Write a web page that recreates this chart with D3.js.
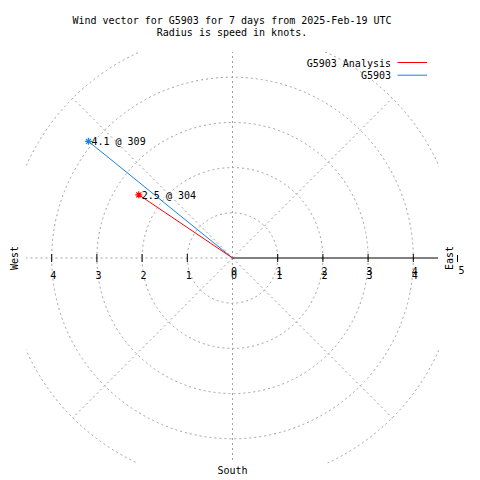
<!DOCTYPE html>
<html><head><meta charset="utf-8">
<script src="https://cdn.jsdelivr.net/npm/d3@7"></script>
<style>body{margin:0;background:#fff}text{font-family:"DejaVu Sans Mono",monospace;font-size:10px;fill:#000}</style>
</head><body>
<script>
const titleLines = ["Wind vector for G5903 for 7 days from 2025-Feb-19 UTC", "Radius is speed in knots."];
const seriesNames = ["G5903 Analysis", "G5903"];
const speeds = [2.5, 4.1];
const directions = [304, 309];
const seriesColors = ["#ff0000", "#1c80e8"];
const ringValues = [1, 2, 3, 4, 5];
const tickValues = [0, 1, 2, 3, 4];
const spokeAngles = [0, 45, 90, 135, 180, 225, 270, 315];

const W = 480, H = 480, cx = 232.5, cy = 258;
const svg = d3.select("body").append("svg").attr("width", W).attr("height", H);
const r = d3.scaleLinear().domain([0, 5]).range([0, 226]);
const px = (a, v) => cx + r(v) * Math.sin(a * Math.PI / 180);
const py = (a, v) => cy - r(v) * Math.cos(a * Math.PI / 180);

svg.append("clipPath").attr("id", "clip").append("rect")
  .attr("x", 26).attr("y", 52).attr("width", 413).attr("height", 411);
const grid = svg.append("g").attr("clip-path", "url(#clip)")
  .attr("fill", "none").attr("stroke", "#a0a0a0").attr("stroke-dasharray", "2,3");
grid.selectAll("circle").data(ringValues).join("circle")
  .attr("cx", cx).attr("cy", cy).attr("r", d => r(d));
grid.selectAll("line").data(spokeAngles.filter(a => a !== 90)).join("line")
  .attr("x1", cx).attr("y1", cy).attr("x2", d => px(d, 5)).attr("y2", d => py(d, 5));

// solid east axis
svg.append("line").attr("x1", cx).attr("y1", cy).attr("x2", 438).attr("y2", cy)
  .attr("stroke", "#000");
// ticks both sides
const ticks = svg.append("g").attr("stroke", "#000");
tickValues.slice(1).forEach(v => {
  ticks.append("line").attr("x1", cx + r(v)).attr("x2", cx + r(v)).attr("y1", cy - 4).attr("y2", cy + 4);
  ticks.append("line").attr("x1", cx - r(v)).attr("x2", cx - r(v)).attr("y1", cy - 4).attr("y2", cy + 4);
});
ticks.append("line").attr("x1", cx + r(5) - 1).attr("x2", cx + r(5) - 1).attr("y1", cy - 3).attr("y2", cy + 4);

// tick labels (right side labels are drawn twice, slightly offset, as in the reference)
const lab = svg.append("g").attr("text-anchor", "middle");
tickValues.forEach(v => {
  lab.append("text").attr("x", cx + r(v) + 1.5).attr("y", cy + 17).text(v);
  lab.append("text").attr("x", cx + r(v) + 1.5).attr("y", cy + 21).text(v);
  if (v > 0) lab.append("text").attr("x", cx - r(v) + 1.5).attr("y", cy + 21).text(v);
});
lab.append("text").attr("x", cx + r(5) + 3).attr("y", cy + 16).text(5);

// direction labels
svg.append("text").attr("transform", `translate(18,${cy}) rotate(-90)`).attr("text-anchor", "middle").text("West");
svg.append("text").attr("transform", `translate(453,${cy}) rotate(-90)`).attr("text-anchor", "middle").text("East");
svg.append("text").attr("x", cx).attr("y", 474).attr("text-anchor", "middle").text("South");

// title
svg.selectAll(".title").data(titleLines).join("text").attr("class", "title")
  .attr("x", 232).attr("y", (d, i) => 23.5 + i * 12.8).attr("text-anchor", "middle").text(d => d);

// legend
seriesNames.forEach((n, i) => {
  const y = 62.5 + i * 12.7;
  svg.append("text").attr("x", 391).attr("y", y + 4).attr("text-anchor", "end").text(n);
  svg.append("line").attr("x1", 397.5).attr("x2", 427).attr("y1", y).attr("y2", y)
    .attr("stroke", seriesColors[i]);
});

// vectors (draw blue first, red on top)
[1, 0].forEach(i => {
  const x = px(directions[i], speeds[i]), y = py(directions[i], speeds[i]);
  svg.append("line").attr("x1", cx).attr("y1", cy).attr("x2", x).attr("y2", y)
    .attr("stroke", seriesColors[i]);
  const s = 3.5, d = 2.5;
  svg.append("path").attr("d", `M${x - s},${y}H${x + s}M${x},${y - s}V${y + s}M${x - d},${y - d}L${x + d},${y + d}M${x - d},${y + d}L${x + d},${y - d}`)
    .attr("stroke", seriesColors[i]).attr("stroke-width", 1.2);
  svg.append("text").attr("x", x + 3).attr("y", y + 4).text(`${speeds[i]} @ ${directions[i]}`);
});
</script>
</body></html>
